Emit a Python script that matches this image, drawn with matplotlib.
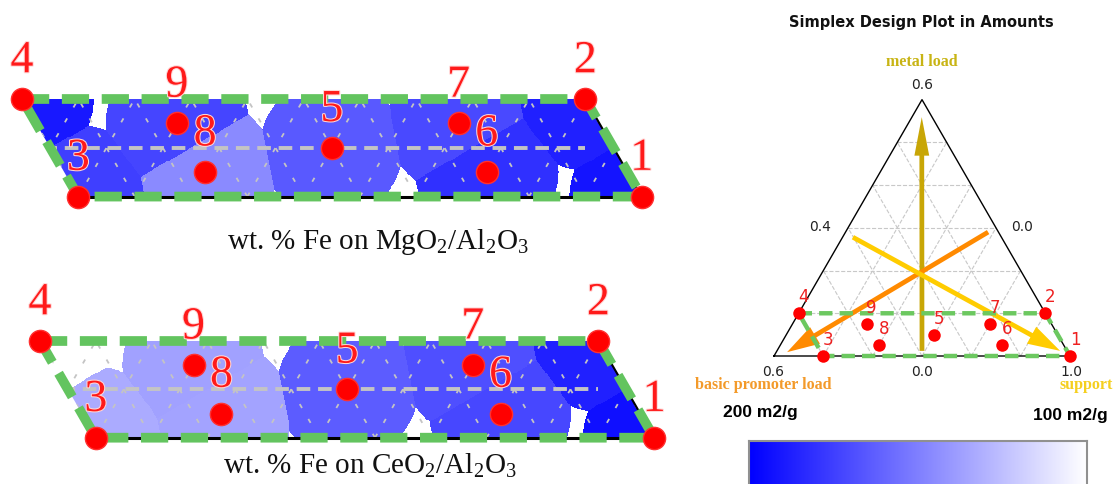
import numpy as np
import matplotlib
matplotlib.use('Agg')
import matplotlib.pyplot as plt
from matplotlib.colors import LinearSegmentedColormap
from matplotlib.patches import Polygon
import matplotlib.patheffects as pe

plt.rcParams['mathtext.fontset'] = 'custom'
plt.rcParams['mathtext.rm'] = 'Liberation Serif'

# ---------------- data ----------------
point_ids = ['1', '2', '3', '4', '5', '6', '7', '8', '9']
metal_load = [0.0, 0.1, 0.0, 0.1, 0.05, 0.025, 0.075, 0.025, 0.075]
promoter_load = [0.0, 0.0, 0.5, 0.5, 0.25, 0.125, 0.125, 0.375, 0.375]
support_load = [1.0, 0.9, 0.5, 0.4, 0.7, 0.85, 0.8, 0.6, 0.55]
area_mgo = [192, 187, 175, 190, 165, 181, 171, 146, 173]
area_ceo = [194, 187, 133, 100, 164, 172, 169, 136, 137]
boundary_order = ['4', '2', '1', '3', '4']
captions = [r'wt. % Fe on MgO$_{\mathrm{2}}$/Al$_{\mathrm{2}}$O$_{\mathrm{3}}$',
            r'wt. % Fe on CeO$_{\mathrm{2}}$/Al$_{\mathrm{2}}$O$_{\mathrm{3}}$']
area_min, area_max = 100, 200
colorbar_labels = ['200 m2/g', '100 m2/g']
component_names = ['metal load', 'basic promoter load', 'support']
corner_ticks = ['0.6', '0.6', '1.0']
edge_ticks = ['0.4', '0.0', '0.0']   # left, right, bottom edge midpoints
grid_step = 0.1
# component direction arrows (start / end compositions: metal, promoter, support)
arrow_metal = [(0.012, 0.294, 0.694), (0.559, 0.020, 0.420)]
arrow_promoter = [(0.290, 0.021, 0.689), (0.009, 0.569, 0.422)]
arrow_support = [(0.278, 0.300, 0.421), (0.012, 0.015, 0.974)]
title = 'Simplex Design Plot in Amounts'

# ---------------- helpers ----------------
W, H = 1115, 485
fig = plt.figure(figsize=(W / 100, H / 100), dpi=100)
SQ = np.sqrt(3) / 2
M_MAX = 0.6
S_MIN = 0.4


def to_xy(m, p, s):
    mp = np.asarray(m) / M_MAX
    sp = (np.asarray(s) - S_MIN) / M_MAX
    return sp + mp / 2, mp * SQ


def px_axes(l, t, w, h):
    ax = fig.add_axes([l / W, 1 - (t + h) / H, w / W, h / H])
    ax.set_axis_off()
    return ax


def px_text(x, y, s, **kw):
    fig.text(x / W, 1 - y / H, s, **kw)


area_cmap = LinearSegmentedColormap.from_list('area', ['#ffffff', '#0000ff'])
px_, py_ = to_xy(metal_load, promoter_load, support_load)
idx = {k: i for i, k in enumerate(point_ids)}
bx = [px_[idx[k]] for k in boundary_order]
by = [py_[idx[k]] for k in boundary_order]
green = '#63c45f'


def detail_panel(box, anchor, k, values, caption, cap_xy):
    l, t, w, h = box
    ax = px_axes(l, t, w, h)
    x4, y4 = px_[idx['4']], py_[idx['4']]
    ax0, ay0 = anchor
    xl = (x4 - (ax0 - l) / k, x4 + (l + w - ax0) / k)
    yl = (y4 - (t + h - ay0) / k, y4 + (ay0 - t) / k)
    ax.set_xlim(*xl)
    ax.set_ylim(*yl)
    # nearest-design-point field limited to a radius
    gx = np.linspace(xl[0], xl[1], 700)
    gy = np.linspace(yl[0], yl[1], 200)
    GX, GY = np.meshgrid(gx, gy)
    d = np.sqrt((GX[..., None] - px_) ** 2 + (GY[..., None] - py_) ** 2)
    nn = d.argmin(axis=-1)
    dmin = d.min(axis=-1)
    field = np.asarray(values, float)[nn]
    field[dmin > 0.106] = np.nan
    cm = area_cmap.copy()
    cm.set_bad((1, 1, 1, 0))
    im = ax.imshow(field, extent=(xl[0], xl[1], yl[0], yl[1]), origin='lower',
                   cmap=cm, vmin=area_min, vmax=area_max, aspect='auto',
                   interpolation='nearest', zorder=1)
    poly = Polygon(list(zip(bx[:-1], by[:-1])), closed=True, transform=ax.transData,
                   fill=False, lw=0)
    ax.add_patch(poly)
    im.set_clip_path(poly)
    # grid lines (metal mid line + diagonal families)
    l1, = ax.plot([bx[0], bx[1]], [0.05 / M_MAX * SQ] * 2, color='#c4c4c4', lw=2.8,
                  dashes=(3.5, 2), zorder=2)
    l1.set_clip_path(poly)
    for v in np.arange(0.0, 0.61, 0.05):
        a = to_xy([0, 0.1], [v, v], [1 - v, 0.9 - v])
        ln, = ax.plot(a[0], a[1], color='#c4c4c4', lw=1.3, dashes=(2.5, 7), zorder=2)
        ln.set_clip_path(poly)
        sv = 0.4 + v
        b = to_xy([0, 0.1], [1 - sv, 0.9 - sv], [sv, sv])
        ln, = ax.plot(b[0], b[1], color='#c4c4c4', lw=1.3, dashes=(2.5, 7), zorder=2)
        ln.set_clip_path(poly)
    # triangle edges
    ax.plot([px_[idx['3']], px_[idx['1']]], [0, 0], color='black', lw=2.2, zorder=3)
    ax.plot([px_[idx['2']], px_[idx['1']]], [py_[idx['2']], 0], color='black', lw=1.5,
            zorder=3)
    ax.plot(bx, by, color=green, lw=7, dashes=(2.8, 1.3), solid_capstyle='butt',
            zorder=4)
    ax.plot(px_, py_, 'o', ms=16, color='#ff0000', mec='#ff3030', zorder=5)
    for i, lab in enumerate(point_ids):
        ax.annotate(lab, (px_[i], py_[i]), xytext=(0, 38), textcoords='offset pixels',
                    ha='center', va='center', fontsize=33, color='#ff1a1a',
                    family='Liberation Serif', zorder=6,
                    path_effects=[pe.withStroke(linewidth=1.5, foreground='#ffd6d6')])
    px_text(cap_xy[0], cap_xy[1], caption, ha='center', va='center', fontsize=21,
            family='Liberation Serif', color='#111111')


detail_panel((0, 30, 680, 192), (22, 100), 676, area_mgo, captions[0], (378, 242))
detail_panel((0, 272, 680, 188), (40, 342), 670, area_ceo, captions[1], (370, 466))

# ---------------- ternary panel ----------------
K = 296.0
BLX, BLY = 774, 357
ax = px_axes(680, 0, 435, 485)
ax.set_xlim((680 - BLX) / K, (1115 - BLX) / K)
ax.set_ylim((BLY - 485) / K, BLY / K)

for f in np.arange(grid_step / M_MAX, 0.999, grid_step / M_MAX):
    ax.plot([f / 2, 1 - f / 2], [f * SQ, f * SQ], color='#c8c8c8', lw=0.8, ls='--', zorder=1)
    ax.plot([f, (1 + f) / 2], [0, (1 - f) * SQ], color='#c8c8c8', lw=0.8, ls='--', zorder=1)
    ax.plot([1 - f, (1 - f) / 2], [0, (1 - f) * SQ], color='#c8c8c8', lw=0.8, ls='--', zorder=1)
ax.plot([0, 1, 0.5, 0], [0, 0, SQ, 0], color='black', lw=1.0, zorder=2)

for arr, col, hw, hl in [(arrow_metal, '#c8a606', 0.05, 0.13),
                         (arrow_promoter, '#ff8a00', 0.065, 0.11),
                         (arrow_support, '#ffcc00', 0.065, 0.11)]:
    x0, y0 = to_xy(*arr[0])
    x1, y1 = to_xy(*arr[1])
    ax.arrow(x0, y0, x1 - x0, y1 - y0, width=0.016, head_width=hw, head_length=hl,
             length_includes_head=True, color=col, lw=0, zorder=3)

ax.plot(bx, by, color='#6cc860', lw=3.2, dashes=(3, 1.6), zorder=4)
ax.plot(px_, py_, 'o', ms=9, color='#ff0000', mec='none', zorder=5)
for i, lab in enumerate(point_ids):
    ax.annotate(lab, (px_[i], py_[i]), xytext=(5, 17), textcoords='offset pixels',
                ha='center', va='center', fontsize=12, color='#ee2020', zorder=6)

px_text(921, 22, title, ha='center', va='center', fontsize=10.5, fontweight='bold',
        color='#111111')
px_text(922, 62, component_names[0], ha='center', va='center', fontsize=11.5,
        fontweight='bold', family='Liberation Serif', color='#c8b414')
px_text(763, 385, component_names[1], ha='center', va='center', fontsize=11.5,
        fontweight='bold', family='Liberation Serif', color='#f39a2a')
px_text(1113, 385, component_names[2], ha='right', va='center', fontsize=11.5,
        fontweight='bold', family='Liberation Serif', color='#f5cf1f')

tick_style = dict(ha='center', va='center', fontsize=10, color='#222222')
px_text(922, 85, corner_ticks[0], **tick_style)
px_text(773, 372, corner_ticks[1], **tick_style)
px_text(1071, 372, corner_ticks[2], **tick_style)
px_text(820, 227, edge_ticks[0], **tick_style)
px_text(1022, 227, edge_ticks[1], **tick_style)
px_text(922, 372, edge_ticks[2], **tick_style)

px_text(760, 413, colorbar_labels[0], ha='center', va='center', fontsize=12.5,
        fontweight='bold', family='Liberation Sans', color='black')
px_text(1070, 416, colorbar_labels[1], ha='center', va='center', fontsize=12.5,
        fontweight='bold', family='Liberation Sans', color='black')

cax = fig.add_axes([749 / W, 1 - 495 / H, (1087 - 749) / W, (495 - 442) / H])
grad = np.linspace(area_max, area_min, 256)[None, :]
cax.imshow(grad, cmap=area_cmap, vmin=area_min, vmax=area_max, aspect='auto',
           extent=(0, 1, 0, 1))
cax.set_xticks([])
cax.set_yticks([])
for s in cax.spines.values():
    s.set_color('#909090')
    s.set_linewidth(1.5)

fig.savefig('out.png', dpi=100)
